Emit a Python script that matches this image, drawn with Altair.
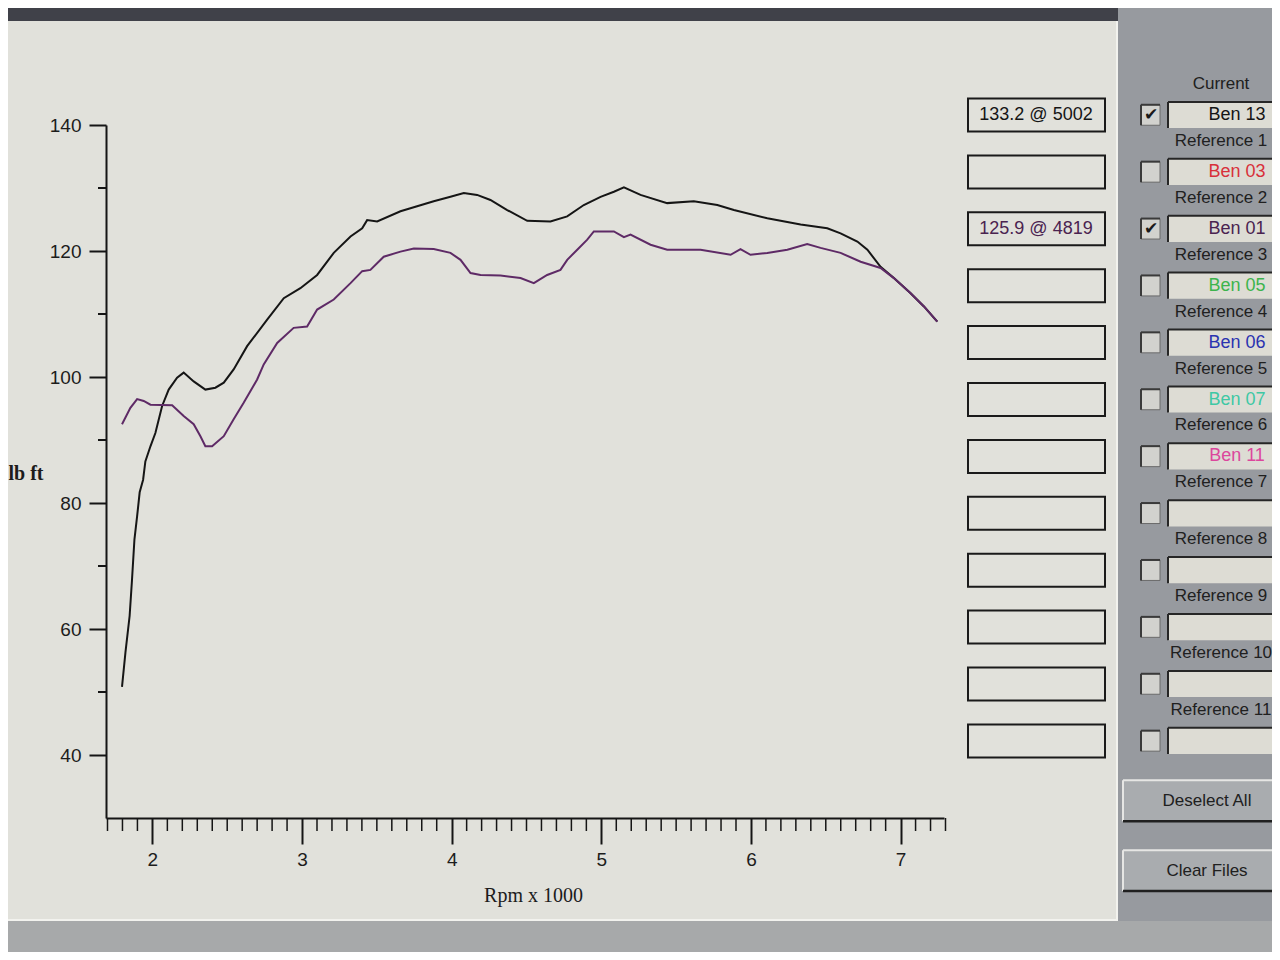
import altair as alt
import pandas as pd

# ---------------- data ----------------
# Ben 13 (Current, black)
rpm_ben13 = [1.797, 1.820, 1.848, 1.864, 1.880, 1.898, 1.915, 1.938, 1.953, 1.987,
             2.020, 2.065, 2.109, 2.165, 2.209, 2.276, 2.354, 2.421, 2.477, 2.543,
             2.633, 2.767, 2.878, 2.989, 3.101, 3.212, 3.324, 3.402, 3.435, 3.502,
             3.658, 3.769, 3.880, 3.992, 4.081, 4.170, 4.259, 4.371, 4.505, 4.660,
             4.772, 4.883, 4.995, 5.084, 5.151, 5.262, 5.440, 5.618, 5.775, 5.886,
             6.109, 6.332, 6.510, 6.599, 6.711, 6.778, 6.866, 6.955, 7.067, 7.156, 7.245]
tq_ben13 = [50.8, 56.3, 62.1, 67.9, 74.2, 77.9, 81.7, 83.7, 86.6, 89.0,
            91.1, 95.4, 98.0, 99.9, 100.7, 99.3, 98.0, 98.3, 99.1, 101.2,
            104.9, 109.1, 112.5, 114.1, 116.2, 119.7, 122.3, 123.6, 124.9, 124.7,
            126.3, 127.1, 127.9, 128.6, 129.2, 128.9, 128.1, 126.5, 124.8, 124.7,
            125.5, 127.3, 128.6, 129.4, 130.1, 128.9, 127.6, 127.9, 127.3, 126.5,
            125.2, 124.2, 123.6, 122.8, 121.5, 120.2, 117.5, 115.7, 113.3, 111.2, 108.8]

# Ben 01 (Reference 2, purple)
rpm_ben01 = [1.797, 1.853, 1.898, 1.942, 1.987, 2.132, 2.209, 2.276, 2.321, 2.354,
             2.399, 2.477, 2.543, 2.610, 2.700, 2.744, 2.834, 2.944, 3.034, 3.101,
             3.212, 3.324, 3.402, 3.457, 3.546, 3.658, 3.747, 3.880, 3.992, 4.059,
             4.126, 4.193, 4.326, 4.460, 4.549, 4.638, 4.727, 4.772, 4.839, 4.906,
             4.950, 5.084, 5.151, 5.195, 5.329, 5.440, 5.663, 5.864, 5.930, 5.997,
             6.109, 6.243, 6.376, 6.465, 6.599, 6.733, 6.866, 6.955, 7.067, 7.156, 7.245]
tq_ben01 = [92.5, 95.1, 96.5, 96.2, 95.6, 95.5, 93.8, 92.5, 90.6, 89.0,
            89.0, 90.6, 93.3, 95.9, 99.6, 102.0, 105.4, 107.8, 108.0, 110.7,
            112.3, 114.9, 116.8, 117.0, 119.1, 119.9, 120.4, 120.3, 119.7, 118.6,
            116.5, 116.2, 116.1, 115.7, 114.9, 116.2, 117.0, 118.6, 120.2, 121.8,
            123.1, 123.1, 122.2, 122.6, 121.0, 120.2, 120.2, 119.4, 120.3, 119.4,
            119.7, 120.2, 121.1, 120.5, 119.7, 118.3, 117.3, 115.7, 113.3, 111.2, 108.8]

x_major = [2, 3, 4, 5, 6, 7]
x_minor = [round(v / 10, 1) for v in range(17, 74) if v % 10 != 0]
y_major = [40, 60, 80, 100, 120, 140]
y_minor = [50, 70, 90, 110, 130]

row_titles = ["Current"] + [f"Reference {i}" for i in range(1, 12)]
file_names = ["Ben 13", "Ben 03", "Ben 01", "Ben 05", "Ben 06", "Ben 07", "Ben 11",
              "", "", "", "", ""]
file_colors = ["#151515", "#d8303a", "#4a2350", "#3cb44c", "#2a33b0", "#3ec8a4", "#dc469c",
               "#151515", "#151515", "#151515", "#151515", "#151515"]
checked = [True, False, True, False, False, False, False, False, False, False, False, False]
peak_texts = ["133.2 @ 5002", "", "125.9 @ 4819", "", "", "", "", "", "", "", "", ""]
peak_colors = ["#151515", "#151515", "#4a2350", "#151515", "#151515", "#151515",
               "#151515", "#151515", "#151515", "#151515", "#151515", "#151515"]
buttons = ["Deselect All", "Clear Files"]

# ---------------- styling ----------------
W, H = 838, 693
BG = "#e1e1db"
PANEL = "#979a9f"
BLACK = "#151515"
PURPLE = "#5e2a66"
SANS = "Liberation Sans, Arial, sans-serif"
SERIF = "Liberation Serif, Times New Roman, serif"

ROW0, ROW_STEP = -10.0, 56.9
row_scale = alt.Scale(domain=[(0 - ROW0) / ROW_STEP, (H - ROW0) / ROW_STEP],
                      reverse=True, nice=False, zero=False)
x_scale = alt.Scale(domain=[1.69, 7.29], nice=False, zero=False)
y_scale = alt.Scale(domain=[30, 140], nice=False, zero=False)

curves = pd.concat([
    pd.DataFrame({"series": "Ben 13", "rpm": rpm_ben13, "torque": tq_ben13}),
    pd.DataFrame({"series": "Ben 01", "rpm": rpm_ben01, "torque": tq_ben01}),
])
rows = pd.DataFrame({
    "row": list(range(12)),
    "title": row_titles,
    "name": file_names,
    "ncol": file_colors,
    "checked": checked,
    "peak": peak_texts,
    "pcol": peak_colors,
})
one = pd.DataFrame({"k": [0]})
btn = pd.DataFrame({"label": buttons, "b": [0, 1]})

# ---------------- decoration ----------------
panel_bg = alt.Chart(one).mark_rect(color=PANEL).encode(
    x=alt.value(1012), x2=alt.value(1170), y=alt.value(-117), y2=alt.value(830))
top_band = alt.Chart(one).mark_rect(color="#404149").encode(
    x=alt.value(-98), x2=alt.value(1012), y=alt.value(-117), y2=alt.value(-104))
bottom_band = alt.Chart(one).mark_rect(color="#a7a9aa").encode(
    x=alt.value(-98), x2=alt.value(1170), y=alt.value(796), y2=alt.value(830))
window_edge = alt.Chart(one).mark_rule(color="#f2f2ee", strokeWidth=2).encode(
    x=alt.value(1011), y=alt.value(-104), y2=alt.value(796))
window_edge2 = alt.Chart(one).mark_rule(color="#f2f2ee", strokeWidth=2).encode(
    x=alt.value(-98), x2=alt.value(1011), y=alt.value(795))

# ---------------- curves and axes ----------------
lines = alt.Chart(curves).mark_line(strokeWidth=2).encode(
    x=alt.X("rpm:Q", scale=x_scale,
            axis=alt.Axis(values=x_major, tickSize=26, tickWidth=2, tickColor=BLACK,
                          domainColor=BLACK, domainWidth=2, grid=False,
                          labelFont=SANS, labelFontSize=19, labelColor="#1c1c1c",
                          labelPadding=6, labelFlush=False,
                          title="Rpm x 1000", titleFont=SERIF, titleFontSize=20,
                          titleFontWeight="normal", titleColor="#1c1c1c",
                          titleX=427, titleY=77, titleAlign="center",
                          titleBaseline="middle")),
    y=alt.Y("torque:Q", scale=y_scale,
            axis=alt.Axis(values=y_major, tickSize=17, tickWidth=2, tickColor=BLACK,
                          domainColor=BLACK, domainWidth=2, grid=False,
                          labelFont=SANS, labelFontSize=19, labelColor="#1c1c1c",
                          labelPadding=8,
                          title="lb ft", titleFont=SERIF, titleFontSize=20,
                          titleFontWeight="bold", titleColor="#1c1c1c",
                          titleAngle=0, titleX=-98, titleY=348, titleAlign="left",
                          titleBaseline="middle")),
    color=alt.Color("series:N", scale=alt.Scale(domain=["Ben 13", "Ben 01"],
                                                range=[BLACK, PURPLE]), legend=None),
    order=alt.Order("rpm:Q"),
)

xminor = alt.Chart(pd.DataFrame({"rpm": x_minor})).mark_rule(
    color=BLACK, strokeWidth=1.5).encode(
    x=alt.X("rpm:Q", scale=x_scale, axis=None),
    y=alt.value(H), y2=alt.value(H + 13))

yminor = alt.Chart(pd.DataFrame({"torque": y_minor})).mark_rule(
    color=BLACK, strokeWidth=2).encode(
    y=alt.Y("torque:Q", scale=y_scale, axis=None),
    x=alt.value(-8), x2=alt.value(0))

# ---------------- right-hand panel ----------------
base_rows = alt.Chart(rows)

def ry(field):
    return alt.Y(f"{field}:Q", scale=row_scale, axis=None)

peak_box = base_rows.mark_rect(fill=BG, stroke="#1a1a1a", strokeWidth=2).transform_calculate(
    y0="datum.row - 0.29", y1="datum.row + 0.29").encode(
    x=alt.value(862), x2=alt.value(999), y=ry("y0"), y2=alt.Y2("y1:Q"))

peak_text = base_rows.mark_text(font=SANS, fontSize=18, align="center",
                                baseline="middle").encode(
    x=alt.value(930), y=ry("row"), text="peak:N", color=alt.Color("pcol:N", scale=None))

check_box = base_rows.mark_rect(fill="#d2d2ce", stroke="#6a6a6a", strokeWidth=1).transform_calculate(
    y0="datum.row - 0.18", y1="datum.row + 0.18").encode(
    x=alt.value(1035), x2=alt.value(1054), y=ry("y0"), y2=alt.Y2("y1:Q"))

check_top = base_rows.mark_rule(color="#3a3a3a", strokeWidth=2).transform_calculate(
    y0="datum.row - 0.18").encode(
    x=alt.value(1035), x2=alt.value(1054), y=ry("y0"))

check_left = base_rows.mark_rule(color="#3a3a3a", strokeWidth=2).transform_calculate(
    y0="datum.row - 0.18", y1="datum.row + 0.18").encode(
    x=alt.value(1035), y=ry("y0"), y2=alt.Y2("y1:Q"))

check_mark = base_rows.transform_filter("datum.checked").mark_text(
    text="\u2714", font="DejaVu Sans", fontSize=17, color="#1a1a1a",
    align="center", baseline="middle").encode(x=alt.value(1045), y=ry("row"))

name_box = base_rows.mark_rect(fill="#dddcd4").transform_calculate(
    y0="datum.row - 0.23", y1="datum.row + 0.23").encode(
    x=alt.value(1062), x2=alt.value(1172), y=ry("y0"), y2=alt.Y2("y1:Q"))

name_top = base_rows.mark_rule(color="#262626", strokeWidth=2).transform_calculate(
    y0="datum.row - 0.23").encode(
    x=alt.value(1062), x2=alt.value(1172), y=ry("y0"))

name_left = base_rows.mark_rule(color="#262626", strokeWidth=2).transform_calculate(
    y0="datum.row - 0.23", y1="datum.row + 0.23").encode(
    x=alt.value(1062), y=ry("y0"), y2=alt.Y2("y1:Q"))

name_text = base_rows.mark_text(font=SANS, fontSize=18, align="center",
                                baseline="middle").encode(
    x=alt.value(1131), y=ry("row"), text="name:N", color=alt.Color("ncol:N", scale=None))

row_title = base_rows.mark_text(font=SANS, fontSize=17, align="center",
                                baseline="middle", dy=-31, color="#202020").encode(
    x=alt.value(1115), y=ry("row"), text="title:N")

# buttons (Deselect All / Clear Files)
btn_base = alt.Chart(btn).transform_calculate(
    yc="12.05 + datum.b * 1.23", y0="datum.yc - 0.36", y1="datum.yc + 0.36")
btn_rect = btn_base.mark_rect(fill="#a9acaf").encode(
    x=alt.value(1017), x2=alt.value(1172), y=ry("y0"), y2=alt.Y2("y1:Q"))
btn_light = btn_base.mark_rule(color="#e6e6e4", strokeWidth=2).encode(
    x=alt.value(1017), x2=alt.value(1172), y=ry("y0"))
btn_light2 = btn_base.mark_rule(color="#e6e6e4", strokeWidth=2).encode(
    x=alt.value(1017), y=ry("y0"), y2=alt.Y2("y1:Q"))
btn_dark = btn_base.mark_rule(color="#202020", strokeWidth=2.5).encode(
    x=alt.value(1017), x2=alt.value(1172), y=ry("y1"))
btn_text = btn_base.mark_text(font=SANS, fontSize=17, align="center",
                              baseline="middle", color="#202020").encode(
    x=alt.value(1101), y=ry("yc"), text="label:N")

chart = alt.layer(
    panel_bg, top_band, bottom_band, window_edge, window_edge2,
    lines, xminor, yminor,
    peak_box, peak_text, check_box, check_top, check_left, check_mark,
    name_box, name_top, name_left, name_text, row_title,
    btn_rect, btn_light, btn_light2, btn_dark, btn_text,
).resolve_scale(x="independent", y="independent").properties(
    width=W, height=H,
    autosize=alt.AutoSizeParams(type="none"),
    padding={"left": 98, "top": 117, "right": 328, "bottom": 134},
    background=BG,
).configure_view(stroke=None, fill=BG)

chart.save("out.html", embed_options={"renderer": "svg", "actions": False})
